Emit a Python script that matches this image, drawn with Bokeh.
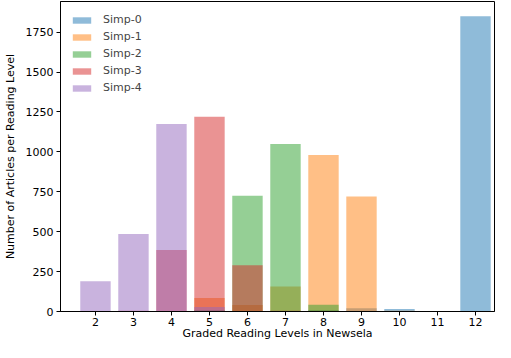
from bokeh.plotting import figure
from bokeh.models import FixedTicker, Range1d, Legend
from bokeh.embed import file_html
from bokeh.resources import INLINE

levels = [2, 3, 4, 5, 6, 7, 8, 9, 10, 11, 12]
series_names = ["Simp-0", "Simp-1", "Simp-2", "Simp-3", "Simp-4"]
simp0 = [0, 0, 0, 0, 0, 0, 10, 20, 15, 3, 1850]
simp1 = [0, 0, 0, 85, 40, 157, 980, 720, 5, 0, 0]
simp2 = [0, 0, 0, 10, 725, 1050, 42, 0, 0, 0, 0]
simp3 = [0, 5, 385, 1220, 290, 5, 0, 0, 0, 0, 0]
simp4 = [190, 485, 1175, 28, 0, 0, 0, 0, 0, 0, 0]
series_values = [simp0, simp1, simp2, simp3, simp4]
colors = ["#1f77b4", "#ff7f0e", "#2ca02c", "#d62728", "#9467bd"]
y_ticks = [0, 250, 500, 750, 1000, 1250, 1500, 1750]
x_title = "Graded Reading Levels in Newsela"
y_title = "Number of Articles per Reading Level"

p = figure(width=495, height=342, output_backend="svg", toolbar_location=None,
           x_range=Range1d(1.08, 12.50), y_range=Range1d(0, 1942),
           min_border_left=59, min_border_right=1, min_border_top=1, min_border_bottom=20)

legend_items = []
for name, vals, c in zip(series_names, series_values, colors):
    r = p.vbar(x=levels, top=vals, width=0.8, fill_color=c, fill_alpha=0.5, line_color=None)
    legend_items.append((name, [r]))

legend = Legend(items=legend_items, location="top_left")
legend.border_line_color = None
legend.background_fill_alpha = 0
legend.label_text_font = "DejaVu Sans"
legend.label_text_font_size = "11px"
legend.glyph_width = 23
legend.glyph_height = 8
legend.spacing = 0
legend.label_height = 17
legend.label_standoff = 10
legend.margin = 10
legend.padding = 10
p.add_layout(legend)

p.grid.visible = False
p.outline_line_color = "black"
p.outline_line_width = 1

p.xaxis.ticker = FixedTicker(ticks=levels)
p.yaxis.ticker = FixedTicker(ticks=y_ticks)
p.xaxis.axis_label = x_title
p.yaxis.axis_label = y_title
for ax in [p.xaxis[0], p.yaxis[0]]:
    ax.major_label_text_font = "DejaVu Sans"
    ax.major_label_text_font_size = "11px"
    ax.axis_label_text_font = "DejaVu Sans"
    ax.axis_label_text_font_size = "11px"
    ax.axis_label_text_font_style = "normal"
    ax.minor_tick_line_color = None
    ax.major_tick_in = 0
    ax.major_tick_out = 4
    ax.axis_line_color = "black"
    ax.major_tick_line_color = "black"
    ax.major_label_text_color = "black"
    ax.axis_label_text_color = "black"
p.xaxis.axis_label_standoff = -2
p.xaxis.major_label_standoff = 2
p.yaxis.axis_label_standoff = 6
p.yaxis.major_label_standoff = 3

open("out.html", "w").write(file_html(p, INLINE))
